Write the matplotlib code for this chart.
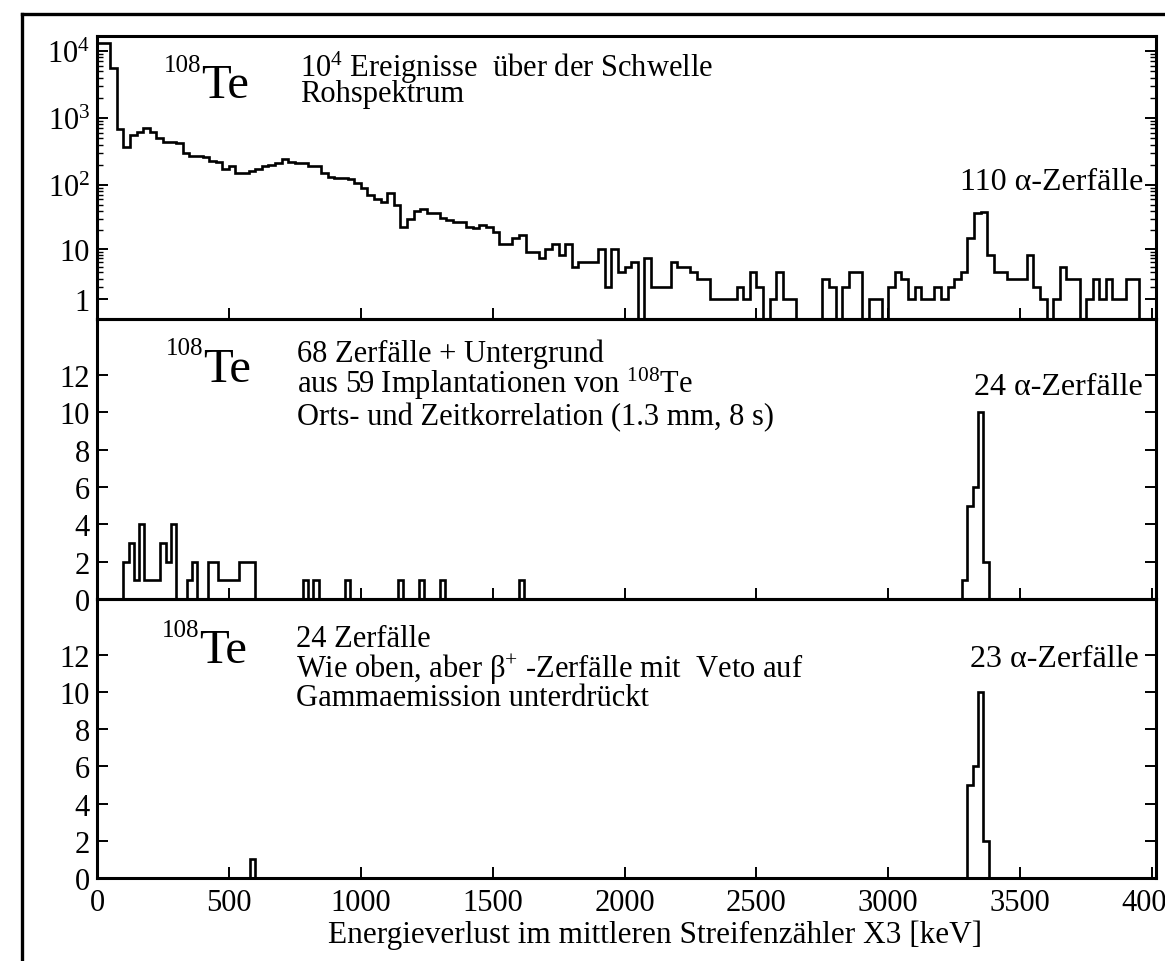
import numpy as np
import matplotlib
matplotlib.use("Agg")
import matplotlib.pyplot as plt
from matplotlib.lines import Line2D

plt.rcParams['font.family'] = ['Liberation Serif', 'DejaVu Serif']
plt.rcParams['mathtext.fontset'] = 'custom'
plt.rcParams['mathtext.rm'] = 'Liberation Serif'
plt.rcParams['mathtext.it'] = 'Liberation Serif:italic'
plt.rcParams['mathtext.bf'] = 'Liberation Serif:bold'

# ---------------- data ----------------
raw_bin_keV = 25
raw_counts = [
    13000, 13000, 5500, 680, 370, 550, 620, 700, 620, 500,
    430, 430, 420, 300, 270, 270, 260, 226, 220, 170,
    190, 150, 150, 160, 170, 190, 200, 213, 240, 220,
    213, 210, 190, 190, 150, 130, 126, 126, 120, 106,
    90, 70, 60, 55, 75, 50, 23, 30, 40, 43,
    37, 37, 31, 29, 27, 27, 23, 22, 24, 23,
    19, 12, 12, 15, 17, 9, 9, 7, 10, 12,
    8, 12, 5, 6, 6, 6, 10, 2, 10, 4,
    5, 6, 0, 7, 2, 2, 2, 6, 5, 5,
    4, 3, 3, 1, 1, 1, 1, 2, 1, 4,
    2, 0, 1, 4, 1, 1, 0, 0, 0, 0,
    3, 2, 0, 2, 4, 4, 0, 1, 1, 0,
    2, 4, 3, 1, 2, 1, 1, 2, 1, 2,
    3, 4, 15, 37, 38, 8, 4, 4, 3, 3,
    3, 8, 2, 1, 0, 1, 5, 3, 3, 0,
    1, 3, 1, 3, 1, 1, 3, 3, 0, 0,
]

corr_bin_keV = 20
corr_energy = [100, 120, 140, 160, 180, 200, 220, 240, 260, 280,
               340, 360, 420, 440, 460, 480, 500, 520, 540, 560, 580,
               780, 820, 940, 1140, 1220, 1300, 1600,
               3280, 3300, 3320, 3340, 3360]
corr_counts = [2, 3, 1, 4, 1, 1, 1, 3, 2, 4,
               1, 2, 2, 2, 1, 1, 1, 1, 2, 2, 2,
               1, 1, 1, 1, 1, 1, 1,
               1, 5, 6, 10, 2]

veto_energy = [580, 3300, 3320, 3340, 3360]
veto_counts = [1, 5, 6, 10, 2]

x_ticks = [0, 500, 1000, 1500, 2000, 2500, 3000, 3500, 4000]
log_ticks = [1, 10, 100, 1000, 10000]
log_tick_labels = ['1', '10', r'$10^2$', r'$10^3$', r'$10^4$']
lin_ticks = [0, 2, 4, 6, 8, 10, 12]

# ---------------- figure ----------------
W, H = 1165, 962
fig = plt.figure(figsize=(W / 100, H / 100), dpi=100)


def rect(x0, y0, x1, y1):
    return [x0 / W, 1 - y1 / H, (x1 - x0) / W, (y1 - y0) / H]


def ftext(x, y, s, size, ha='left', va='baseline'):
    fig.text(x / W, 1 - y / H, s, fontsize=size, ha=ha, va=va, color='k')


# outer frame (left and top lines)
fig.add_artist(Line2D([22 / W, 22 / W], [0, 1 - 15 / H], color='k', lw=2.4,
                      transform=fig.transFigure))
fig.add_artist(Line2D([22 / W, 1], [1 - 15 / H, 1 - 15 / H], color='k', lw=2.4,
                      transform=fig.transFigure))

ax1 = fig.add_axes(rect(97, 37, 1156, 320))
ax2 = fig.add_axes(rect(97, 320, 1156, 600))
ax3 = fig.add_axes(rect(97, 600, 1156, 879))

XMAX = 4015
LW_HIST = 1.9
LW_SPINE = 2.2


def build_hist(energies, counts, width, xmax=4000):
    n = int(round(xmax / width))
    vals = np.zeros(n)
    for e, c in zip(energies, counts):
        vals[int(round(e / width))] = c
    edges = np.arange(n + 1) * width
    return vals, edges


# --- top panel: raw spectrum, log(n+1)-type scale
raw_vals = np.array(raw_counts, dtype=float)
raw_edges = np.arange(len(raw_vals) + 1) * raw_bin_keV
ax1.set_yscale('function', functions=(lambda y: np.log10(np.clip(y, 0, None) + 1),
                                       lambda y: 10 ** y - 1))
ax1.stairs(raw_vals, raw_edges, color='k', lw=LW_HIST, baseline=0)
ax1.set_ylim(0, 16700)
ax1.set_yticks(log_ticks)
ax1.set_yticklabels(log_tick_labels)
minor = [k * 10 ** d for d in range(0, 4) for k in range(2, 10)]
ax1.set_yticks(minor, minor=True)

# --- middle panel
v2, e2 = build_hist(corr_energy, corr_counts, corr_bin_keV)
ax2.stairs(v2, e2, color='k', lw=LW_HIST, baseline=0)

# --- bottom panel
v3, e3 = build_hist(veto_energy, veto_counts, corr_bin_keV)
ax3.stairs(v3, e3, color='k', lw=LW_HIST, baseline=0)

for ax in (ax2, ax3):
    ax.set_ylim(0, 15)
    ax.set_yticks(lin_ticks)

for ax in (ax1, ax2, ax3):
    ax.set_xlim(0, XMAX)
    ax.set_xticks(x_ticks)
    for sp in ax.spines.values():
        sp.set_linewidth(LW_SPINE)
    ax.tick_params(which='major', direction='in', length=8, width=1.4,
                   left=True, right=True, top=False, bottom=True,
                   labelsize=22, pad=5)
    ax.tick_params(which='minor', direction='in', length=4, width=1.0,
                   left=True, right=True)
    ax.set_facecolor('none')

ax1.tick_params(axis='x', labelbottom=False)
ax2.tick_params(axis='x', labelbottom=False)
ax3.tick_params(axis='x', pad=7)

ftext(655, 943, 'Energieverlust im mittleren Streifenzähler X3 [keV]', 22.5, ha='center')

# --- panel annotations
TE, ISO, TX, TR = 35, 18, 22, 23
# top
ftext(201, 72, '108', ISO, ha='right')
ftext(201, 98, 'Te', TE)
ftext(300, 77, r'10$^4$ Ereignisse  über der Schwelle', TX)
ftext(300, 102, 'Rohspektrum', TX)
ftext(1143, 190, '110 α-Zerfälle', TR, ha='right')
# middle
ftext(203, 355, '108', ISO, ha='right')
ftext(203, 382, 'Te', TE)
ftext(297, 362, '68 Zerfälle + Untergrund', TX)
ftext(297, 393, r'aus 59 Implantationen von $^{108}$Te', TX)
ftext(297, 425, 'Orts- und Zeitkorrelation (1.3 mm, 8 s)', TX)
ftext(1143, 395, '24 α-Zerfälle', TR, ha='right')
# bottom
ftext(199, 637, '108', ISO, ha='right')
ftext(199, 663, 'Te', TE)
ftext(296, 647, '24 Zerfälle', TX)
ftext(296, 678, r'Wie oben, aber β$^{+}$ -Zerfälle mit  Veto auf', TX)
ftext(296, 706, 'Gammaemission unterdrückt', TX)
ftext(1139, 667, '23 α-Zerfälle', TR, ha='right')

fig.savefig('out.png', dpi=100)
